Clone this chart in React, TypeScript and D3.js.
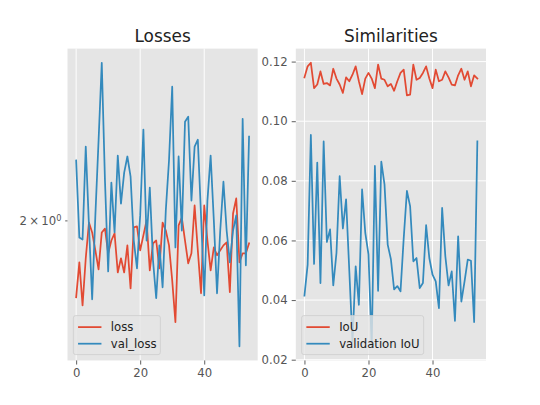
import { useRef, useEffect } from "react";
import * as d3 from "d3";

// epochs 0..54
const epochs = d3.range(55);

const loss = [
  1.770, 1.871, 1.747, 1.883, 1.993, 1.962, 1.907, 1.850, 1.962, 1.974,
  1.898, 1.937, 1.959, 1.841, 1.883, 1.841, 1.922, 1.795, 1.978, 1.981,
  1.907, 1.953, 2.000, 1.847, 1.928, 1.937, 1.853, 1.993, 1.968, 1.922,
  1.818, 1.701, 1.984, 2.009, 1.937, 1.868, 1.898, 2.048, 1.907, 1.781,
  2.048, 1.937, 1.847, 1.916, 1.892, 1.907, 1.922, 1.931, 1.784, 2.022,
  2.071, 1.871, 1.898, 1.898, 1.928,
];

const valLoss = [
  2.200, 1.946, 1.940, 2.249, 1.984, 1.764, 2.016, 2.270, 2.570, 2.131,
  1.844, 2.124, 1.962, 2.217, 2.054, 2.158, 2.214, 2.144, 1.937, 1.853,
  2.016, 2.311, 1.937, 2.107, 1.877, 1.767, 1.922, 1.798, 2.032, 2.200,
  2.474, 1.916, 2.214, 1.968, 2.340, 2.359, 2.064, 2.249, 2.274, 2.016,
  1.775, 2.064, 2.217, 2.000, 1.781, 1.968, 2.127, 1.968, 1.871, 1.968,
  2.016, 1.637, 2.351, 1.862, 2.285,
];

const iou = [
  0.1147, 0.1184, 0.1196, 0.1111, 0.1123, 0.1167, 0.1125, 0.1128, 0.1120, 0.1176,
  0.1143, 0.1123, 0.1095, 0.1147, 0.1134, 0.1156, 0.1184, 0.1134, 0.1091, 0.1143,
  0.1162, 0.1143, 0.1111, 0.1190, 0.1143, 0.1139, 0.1117, 0.1125, 0.1102, 0.1134,
  0.1162, 0.1173, 0.1087, 0.1089, 0.1190, 0.1139, 0.1145, 0.1162, 0.1184, 0.1143,
  0.1111, 0.1173, 0.1134, 0.1139, 0.1167, 0.1147, 0.1123, 0.1120, 0.1154, 0.1176,
  0.1139, 0.1167, 0.1117, 0.1154, 0.1143,
];

const valIou = [
  0.0415, 0.0519, 0.0954, 0.0521, 0.0861, 0.0457, 0.0932, 0.0595, 0.0637, 0.0449,
  0.0558, 0.0816, 0.0640, 0.0738, 0.0500, 0.0260, 0.0513, 0.0384, 0.0771, 0.0625,
  0.0553, 0.0245, 0.0850, 0.0431, 0.0864, 0.0788, 0.0586, 0.0537, 0.0436, 0.0447,
  0.0429, 0.0607, 0.0766, 0.0715, 0.0530, 0.0541, 0.0440, 0.0457, 0.0651, 0.0541,
  0.0485, 0.0463, 0.0373, 0.0709, 0.0547, 0.0449, 0.0496, 0.0330, 0.0614, 0.0395,
  0.0463, 0.0536, 0.0532, 0.0326, 0.0932,
];

const xTicks = [0, 20, 40];
const lossTicks = [2];
const simTicks = [0.02, 0.04, 0.06, 0.08, 0.1, 0.12];

const RED = "#E24A33";
const BLUE = "#348ABD";
const FONT = "DejaVu Sans";

export default function App() {
  const svgRef = useRef<SVGSVGElement>(null);

  useEffect(() => {
    const svg = d3.select(svgRef.current);
    svg.selectAll("*").remove();

    const width = 540;
    const height = 405;
    const top = 48.6;
    const bottom = 360.45;
    const axW = 190.2;
    const lefts = [67.5, 295.8];

    svg.attr("width", width).attr("height", height);
    svg.append("rect").attr("width", width).attr("height", height).attr("fill", "white");

    const xDomain = [-2.7, 56.7];

    const drawPanel = (
      idx: number,
      title: string,
      a: number[],
      b: number[],
      names: string[],
      logScale: boolean
    ) => {
      const left = lefts[idx];
      const x = d3.scaleLinear().domain(xDomain).range([left, left + axW]);
      const all = a.concat(b);
      let y: any;
      if (logScale) {
        const lo = Math.log(d3.min(all)!);
        const hi = Math.log(d3.max(all)!);
        const m = (hi - lo) * 0.05;
        y = d3.scaleLog().domain([Math.exp(lo - m), Math.exp(hi + m)]).range([bottom, top]);
      } else {
        const lo = d3.min(all)!;
        const hi = d3.max(all)!;
        const m = (hi - lo) * 0.05;
        y = d3.scaleLinear().domain([lo - m, hi + m]).range([bottom, top]);
      }

      const g = svg.append("g");
      g.append("rect")
        .attr("x", left)
        .attr("y", top)
        .attr("width", axW)
        .attr("height", bottom - top)
        .attr("fill", "#E5E5E5");

      const clipId = `clip-${idx}`;
      g.append("clipPath")
        .attr("id", clipId)
        .append("rect")
        .attr("x", left)
        .attr("y", top)
        .attr("width", axW)
        .attr("height", bottom - top);

      // grid
      g.selectAll(".xgrid")
        .data(xTicks)
        .join("line")
        .attr("x1", (d) => x(d))
        .attr("x2", (d) => x(d))
        .attr("y1", top)
        .attr("y2", bottom)
        .attr("stroke", "white")
        .attr("stroke-width", 0.95);
      if (!logScale) {
        g.selectAll(".ygrid")
          .data(simTicks)
          .join("line")
          .attr("x1", left)
          .attr("x2", left + axW)
          .attr("y1", (d) => y(d))
          .attr("y2", (d) => y(d))
          .attr("stroke", "white")
          .attr("stroke-width", 0.95);
      }

      // lines
      const line = d3
        .line<number>()
        .x((_, i) => x(epochs[i]))
        .y((d) => y(d));
      [a, b].forEach((series, i) => {
        g.append("path")
          .datum(series)
          .attr("d", line)
          .attr("fill", "none")
          .attr("stroke", i === 0 ? RED : BLUE)
          .attr("stroke-width", 1.75)
          .attr("stroke-linejoin", "round")
          .attr("stroke-linecap", "square")
          .attr("clip-path", `url(#${clipId})`);
      });

      // x axis
      const xa = g
        .append("g")
        .attr("transform", `translate(0,${bottom})`)
        .call(d3.axisBottom(x).tickValues(xTicks).tickSize(4.1).tickPadding(4.1).tickFormat(d3.format("d")));
      // y axis
      const ya = g
        .append("g")
        .attr("transform", `translate(${left},0)`)
        .call(
          d3
            .axisLeft(y)
            .tickValues(logScale ? lossTicks : simTicks)
            .tickSize(logScale ? 2.3 : 4.1)
            .tickPadding(logScale ? 3.8 : 4.1)
            .tickFormat(logScale ? () => "" : d3.format(".2f"))
        );
      [xa, ya].forEach((ax) => {
        ax.select(".domain").remove();
        ax.selectAll("line").attr("stroke", "#555555").attr("stroke-width", 0.95);
        ax.selectAll("text")
          .attr("fill", "#555555")
          .attr("font-family", FONT)
          .attr("font-size", "11.7px");
      });
      if (logScale) {
        const t = ya.select(".tick text");
        t.append("tspan").text("2\u2009\u00d7\u200910");
        t.append("tspan").attr("dy", "-0.45em").attr("font-size", "8.2px").text("0");
      }

      // title
      g.append("text")
        .attr("x", left + axW / 2)
        .attr("y", top - 7)
        .attr("text-anchor", "middle")
        .attr("font-family", FONT)
        .attr("font-size", "16.9px")
        .attr("fill", "#222")
        .text(title);

      // legend
      const legW = idx === 0 ? 87 : 122;
      const lx = left + 5.85;
      const ly = bottom - 5.85 - 39;
      const leg = g.append("g");
      leg.append("rect")
        .attr("x", lx)
        .attr("y", ly)
        .attr("width", legW)
        .attr("height", 39)
        .attr("rx", 2.3)
        .attr("fill", "#E5E5E5")
        .attr("fill-opacity", 0.8)
        .attr("stroke", "#CCCCCC")
        .attr("stroke-opacity", 0.8)
        .attr("stroke-width", 0.95);
      names.forEach((name, i) => {
        const ry = ly + 11.5 + i * 16.6;
        leg.append("line")
          .attr("x1", lx + 4.7)
          .attr("x2", lx + 4.7 + 23.4)
          .attr("y1", ry)
          .attr("y2", ry)
          .attr("stroke", i === 0 ? RED : BLUE)
          .attr("stroke-width", 1.75);
        leg.append("text")
          .attr("x", lx + 4.7 + 23.4 + 9.4)
          .attr("y", ry)
          .attr("dy", "0.36em")
          .attr("font-family", FONT)
          .attr("font-size", "11.7px")
          .attr("fill", "#222")
          .text(name);
      });
    };

    drawPanel(0, "Losses", loss, valLoss, ["loss", "val_loss"], true);
    drawPanel(1, "Similarities", iou, valIou, ["IoU", "validation IoU"], false);
  }, []);

  return (
    <div style={{ position: "absolute", left: 0, top: 0 }}>
      <svg ref={svgRef} style={{ display: "block" }}></svg>
    </div>
  );
}
